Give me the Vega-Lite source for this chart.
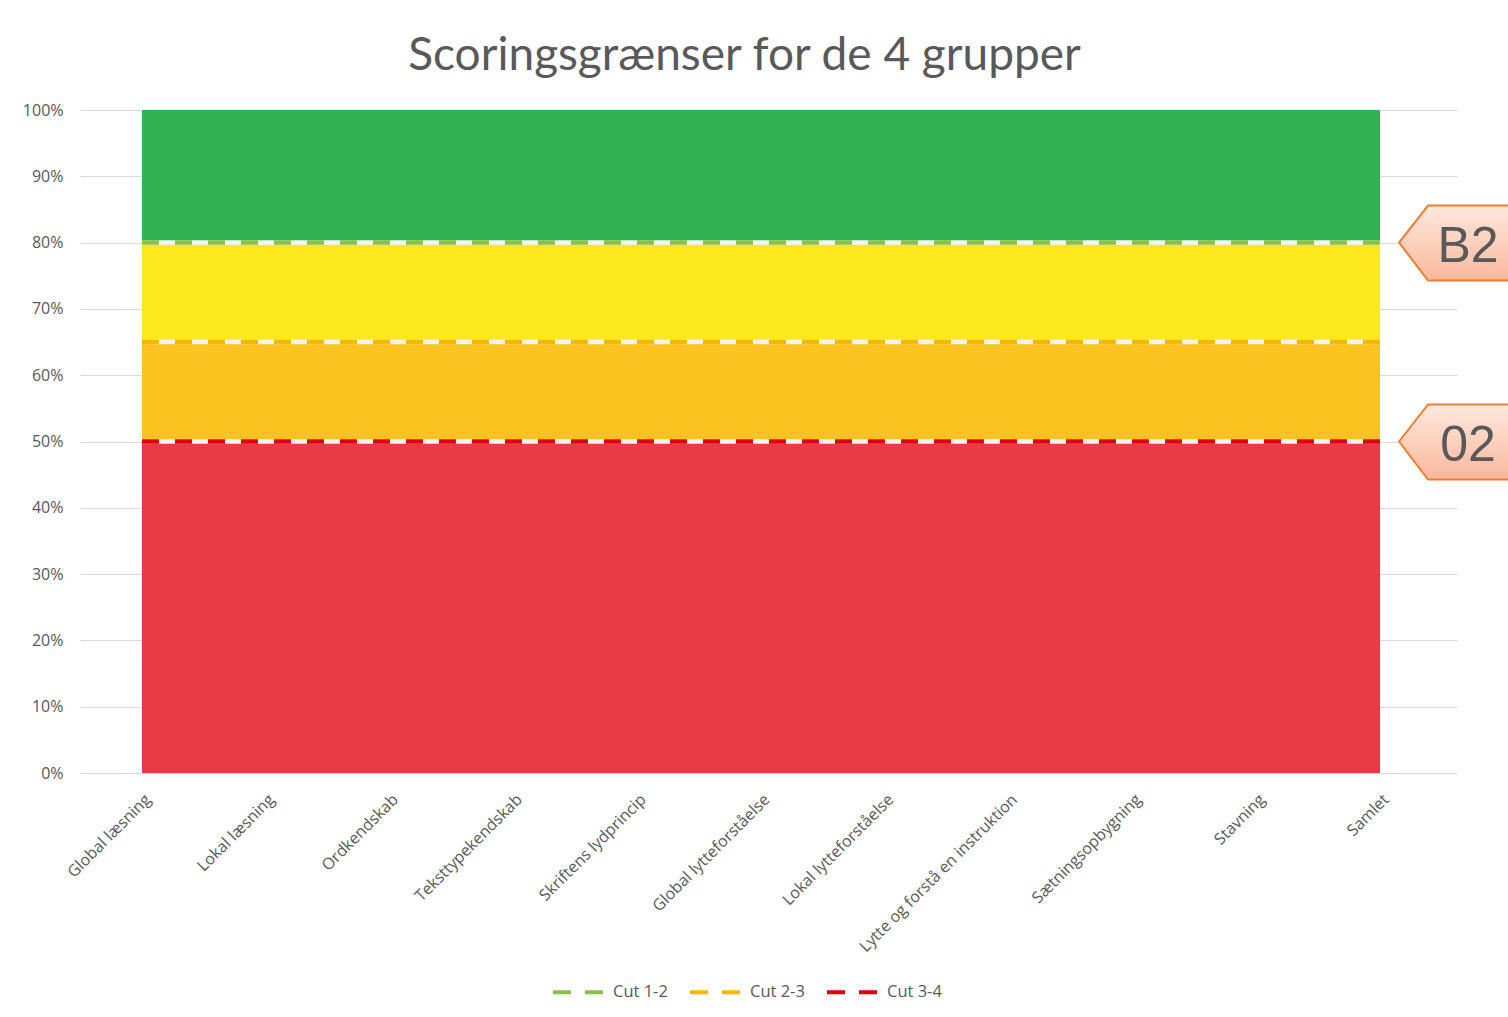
{
  "$schema": "https://vega.github.io/schema/vega-lite/v6.json",
  "autosize": {"type": "none"},
  "width": 1377,
  "height": 663,
  "padding": {"left": 80, "top": 110, "right": 51, "bottom": 244},
  "background": "white",
  "title": {
    "text": "Scoringsgrænser for de 4 grupper",
    "font": "Lato",
    "fontSize": 46,
    "fontWeight": "normal",
    "color": "#595959",
    "anchor": "middle",
    "baseline": "alphabetic",
    "offset": -14,
    "dx": -24
  },
  "config": {
    "view": {"stroke": null},
    "axis": {"labelFont": "Open Sans", "labelColor": "#595959", "labelFontSize": 16}
  },
  "data": {
    "values": [
      {"cat": "Global læsning", "Min": 0, "Cut 3-4": 50, "Cut 2-3": 65, "Cut 1-2": 80, "Max": 100},
      {"cat": "Lokal læsning", "Min": 0, "Cut 3-4": 50, "Cut 2-3": 65, "Cut 1-2": 80, "Max": 100},
      {"cat": "Ordkendskab", "Min": 0, "Cut 3-4": 50, "Cut 2-3": 65, "Cut 1-2": 80, "Max": 100},
      {"cat": "Teksttypekendskab", "Min": 0, "Cut 3-4": 50, "Cut 2-3": 65, "Cut 1-2": 80, "Max": 100},
      {"cat": "Skriftens lydprincip", "Min": 0, "Cut 3-4": 50, "Cut 2-3": 65, "Cut 1-2": 80, "Max": 100},
      {"cat": "Global lytteforståelse", "Min": 0, "Cut 3-4": 50, "Cut 2-3": 65, "Cut 1-2": 80, "Max": 100},
      {"cat": "Lokal lytteforståelse", "Min": 0, "Cut 3-4": 50, "Cut 2-3": 65, "Cut 1-2": 80, "Max": 100},
      {"cat": "Lytte og forstå en instruktion", "Min": 0, "Cut 3-4": 50, "Cut 2-3": 65, "Cut 1-2": 80, "Max": 100},
      {"cat": "Sætningsopbygning", "Min": 0, "Cut 3-4": 50, "Cut 2-3": 65, "Cut 1-2": 80, "Max": 100},
      {"cat": "Stavning", "Min": 0, "Cut 3-4": 50, "Cut 2-3": 65, "Cut 1-2": 80, "Max": 100},
      {"cat": "Samlet", "Min": 0, "Cut 3-4": 50, "Cut 2-3": 65, "Cut 1-2": 80, "Max": 100}
    ]
  },
  "encoding": {
    "x": {
      "field": "cat",
      "type": "nominal",
      "sort": null,
      "title": null,
      "scale": {"type": "point", "padding": 0.561, "align": 0.446},
      "axis": {
        "labelAngle": -45,
        "labelPadding": 18,
        "labelLimit": 0,
        "ticks": false,
        "domain": false,
        "grid": false,
        "labelFontSize": 16
      }
    }
  },
  "layer": [
    {
      "mark": {"type": "area", "color": "#e93a45", "opacity": 1},
      "encoding": {
        "y": {
          "field": "Min",
          "type": "quantitative",
          "scale": {"domain": [0, 100], "nice": false},
          "title": null,
          "axis": {
            "values": [0, 10, 20, 30, 40, 50, 60, 70, 80, 90, 100],
            "labelExpr": "datum.value + '%'",
            "ticks": false,
            "domain": false,
            "gridColor": "#d9d9d9",
            "gridWidth": 1.2,
            "labelPadding": 17
          }
        },
        "y2": {"field": "Cut 3-4"}
      }
    },
    {
      "mark": {"type": "area", "color": "#fcc21f", "opacity": 1},
      "encoding": {
        "y": {"field": "Cut 3-4", "type": "quantitative"},
        "y2": {"field": "Cut 2-3"}
      }
    },
    {
      "mark": {"type": "area", "color": "#fde81e", "opacity": 1},
      "encoding": {
        "y": {"field": "Cut 2-3", "type": "quantitative"},
        "y2": {"field": "Cut 1-2"}
      }
    },
    {
      "mark": {"type": "area", "color": "#31b152", "opacity": 1},
      "encoding": {
        "y": {"field": "Cut 1-2", "type": "quantitative"},
        "y2": {"field": "Max"}
      }
    },
    {
      "transform": [{"fold": ["Cut 1-2", "Cut 2-3", "Cut 3-4"], "as": ["cut", "value"]}],
      "mark": {"type": "line", "color": "#f4f4f4", "strokeWidth": 4.5},
      "encoding": {
        "y": {"field": "value", "type": "quantitative"},
        "detail": {"field": "cut", "type": "nominal"}
      }
    },
    {
      "transform": [{"fold": ["Cut 1-2", "Cut 2-3", "Cut 3-4"], "as": ["cut", "value"]}],
      "mark": {"type": "line", "strokeWidth": 4.5, "strokeDash": [17, 16]},
      "encoding": {
        "y": {"field": "value", "type": "quantitative"},
        "color": {
          "field": "cut",
          "type": "nominal",
          "scale": {"domain": ["Cut 1-2", "Cut 2-3", "Cut 3-4"], "range": ["#86c24a", "#f5b800", "#e0000f"]},
          "legend": {
            "title": null,
            "orient": "none",
            "legendX": 471,
            "legendY": 855,
            "direction": "horizontal",
            "symbolType": "stroke",
            "symbolSize": 2500,
            "symbolStrokeWidth": 4,
            "symbolDash": [18, 14],
            "labelFont": "Open Sans",
            "labelFontSize": 16.5,
            "labelColor": "#595959",
            "labelOffset": 8,
            "columnPadding": 14
          }
        }
      }
    },
    {
      "data": {"values": [{"cat": "Samlet", "label": "B2", "cut": 80}, {"cat": "Samlet", "label": "02", "cut": 50}]},
      "mark": {
        "type": "point",
        "shape": "M19,0 L48,-37 L150,-37 L150,38 L48,38 Z",
        "size": 4,
        "filled": true,
        "opacity": 1,
        "fill": {
          "gradient": "linear",
          "x1": 0, "y1": 0, "x2": 0, "y2": 1,
          "stops": [{"offset": 0, "color": "#fee8de"}, {"offset": 1, "color": "#f9b89b"}]
        },
        "stroke": "#ed7d31",
        "strokeWidth": 2
      },
      "encoding": {
        "y": {"field": "cut", "type": "quantitative"}
      }
    },
    {
      "data": {"values": [{"cat": "Samlet", "label": "B2", "cut": 80}, {"cat": "Samlet", "label": "02", "cut": 50}]},
      "mark": {
        "type": "text",
        "font": "Liberation Sans",
        "fontSize": 50,
        "color": "#595959",
        "align": "center",
        "baseline": "alphabetic",
        "dx": 88,
        "dy": 19
      },
      "encoding": {
        "y": {"field": "cut", "type": "quantitative"},
        "text": {"field": "label"}
      }
    }
  ],
  "resolve": {"scale": {"color": "independent"}}
}
